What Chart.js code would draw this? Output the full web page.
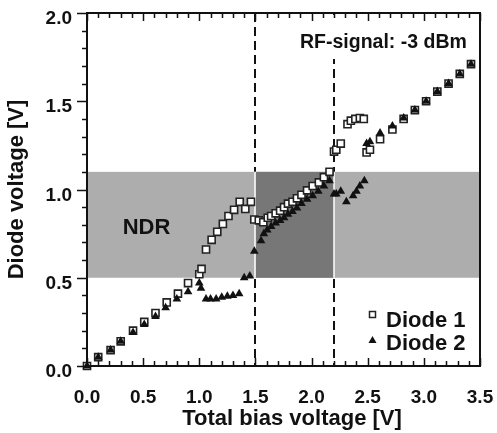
<!DOCTYPE html>
<html>
<head>
<meta charset="utf-8">
<script src="https://cdn.jsdelivr.net/npm/chart.js@4/dist/chart.umd.min.js"></script>
<style>
  html, body { margin: 0; padding: 0; background: #fff; }
  #wrap { width: 497px; height: 433px; }
</style>
</head>
<body>
<div id="wrap"><canvas id="chart" width="497" height="433"></canvas></div>
<script>
// values
var diode1X = [0, 0.10, 0.21, 0.30, 0.41, 0.51, 0.61, 0.71, 0.81, 0.90, 1.00, 1.02, 1.06, 1.11, 1.16, 1.21, 1.26, 1.31, 1.36, 1.41, 1.46,
  1.49, 1.53, 1.57, 1.61, 1.64, 1.68, 1.72, 1.755, 1.79, 1.83, 1.87, 1.91, 1.96, 2.01, 2.065, 2.11, 2.16,
  2.20, 2.22, 2.26, 2.32, 2.35, 2.39, 2.43, 2.465, 2.49, 2.52, 2.61, 2.72, 2.82, 2.92, 3.02, 3.12, 3.22, 3.32, 3.42];
var diode1Y = [0, 0.05, 0.09, 0.14, 0.20, 0.25, 0.30, 0.36, 0.41, 0.47, 0.52, 0.55, 0.66, 0.715, 0.76, 0.805, 0.85, 0.885, 0.93, 0.89, 0.93,
  0.83, 0.825, 0.815, 0.84, 0.85, 0.865, 0.88, 0.90, 0.92, 0.93, 0.95, 0.97, 0.995, 1.02, 1.04, 1.07, 1.10,
  1.215, 1.225, 1.26, 1.37, 1.39, 1.40, 1.405, 1.40, 1.21, 1.225, 1.285, 1.34, 1.40, 1.45, 1.50, 1.555, 1.60, 1.655, 1.71];

var diode2X = [0, 0.10, 0.21, 0.30, 0.41, 0.51, 0.61, 0.70, 0.80, 0.90, 1.00, 1.015, 1.06, 1.10, 1.15, 1.20, 1.25, 1.30, 1.355, 1.40, 1.45,
  1.49, 1.55, 1.575, 1.605, 1.64, 1.68, 1.72, 1.755, 1.79, 1.83, 1.87, 1.91, 1.96, 2.01, 2.06, 2.11, 2.16,
  2.20, 2.22, 2.26, 2.31, 2.37, 2.40, 2.43, 2.47, 2.49, 2.52, 2.61, 2.72, 2.82, 2.92, 3.02, 3.12, 3.22, 3.32, 3.42];
var diode2Y = [0, 0.05, 0.09, 0.14, 0.19, 0.235, 0.28, 0.33, 0.38, 0.42, 0.47, 0.44, 0.38, 0.38, 0.38, 0.39, 0.395, 0.40, 0.41, 0.50, 0.51,
  0.65, 0.71, 0.75, 0.77, 0.79, 0.81, 0.825, 0.84, 0.86, 0.875, 0.895, 0.92, 0.945, 0.965, 0.99, 1.02, 1.05,
  0.975, 0.975, 0.99, 0.93, 0.965, 0.99, 1.02, 1.05, 1.26, 1.27, 1.32, 1.36, 1.405, 1.45, 1.50, 1.555, 1.60, 1.655, 1.71];

var xTicks = [0, 0.5, 1.0, 1.5, 2.0, 2.5, 3.0, 3.5];
var yTicks = [0, 0.5, 1.0, 1.5, 2.0];

var ndrBand = [0.5, 1.1];     // voltage range of the shaded band
var dashedAt = [1.5, 2.2];    // dashed vertical markers

function pairs(xs, ys) {
  var out = [];
  for (var i = 0; i < xs.length; i++) out.push({x: xs[i], y: ys[i]});
  return out;
}

var FONT = "'Liberation Sans', Arial, Helvetica, sans-serif";

var decorPlugin = {
  id: 'decor',
  beforeDatasetsDraw: function(chart) {
    var ctx = chart.ctx;
    var xs = chart.scales.x, ys = chart.scales.y;
    var a = chart.chartArea;
    ctx.save();
    // dashed markers
    ctx.strokeStyle = '#111';
    ctx.lineWidth = 2;
    ctx.setLineDash([9, 5]);
    dashedAt.forEach(function(v) {
      var px = Math.round(xs.getPixelForValue(v));
      ctx.beginPath();
      ctx.moveTo(px, a.top);
      ctx.lineTo(px, a.bottom);
      ctx.stroke();
    });
    ctx.setLineDash([]);
    // shaded NDR band
    var yt = ys.getPixelForValue(ndrBand[1]), yb = ys.getPixelForValue(ndrBand[0]);
    ctx.fillStyle = '#adadad';
    ctx.fillRect(a.left, yt, a.right - a.left, yb - yt);
    var x1 = xs.getPixelForValue(dashedAt[0]), x2 = xs.getPixelForValue(dashedAt[1]);
    ctx.fillStyle = '#777';
    ctx.fillRect(x1, yt, x2 - x1, yb - yt);
    ctx.strokeStyle = '#fff';
    ctx.lineWidth = 1.5;
    [x1, x2].forEach(function(px) {
      ctx.beginPath();
      ctx.moveTo(Math.round(px), yt);
      ctx.lineTo(Math.round(px), yb);
      ctx.stroke();
    });
    ctx.fillStyle = '#111';
    ctx.font = 'bold 22px ' + FONT;
    ctx.textAlign = 'center';
    ctx.textBaseline = 'middle';
    ctx.fillText('NDR', xs.getPixelForValue(0.53), ys.getPixelForValue(0.78));
    // white box behind the RF note
    ctx.fillStyle = '#fff';
    ctx.fillRect(296, a.top + 2, a.right - 298, 44);
    ctx.restore();
  },
  afterDraw: function(chart) {
    var ctx = chart.ctx;
    var xs = chart.scales.x, ys = chart.scales.y;
    var a = chart.chartArea;
    ctx.save();
    // frame
    ctx.strokeStyle = '#111';
    ctx.lineWidth = 2;
    ctx.strokeRect(a.left, a.top, a.right - a.left, a.bottom - a.top);
    // ticks
    ctx.lineWidth = 1.5;
    for (var i = 0; i <= 35; i++) {
      var v = i / 10;
      var px = Math.round(xs.getPixelForValue(v)) + 0.5;
      var major = i % 5 === 0;
      var len = major ? 8 : 5;
      ctx.beginPath();
      ctx.moveTo(px, a.bottom);
      ctx.lineTo(px, a.bottom - len);
      ctx.moveTo(px, a.top);
      ctx.lineTo(px, a.top + len);
      ctx.stroke();
    }
    for (var j = 0; j <= 20; j++) {
      var w = j / 10;
      var py = Math.round(ys.getPixelForValue(w)) + 0.5;
      var lenY = j % 5 === 0 ? 10 : 5;
      ctx.beginPath();
      ctx.moveTo(a.left, py);
      ctx.lineTo(a.left - lenY, py);
      ctx.stroke();
    }
    // x axis title, sits a little right of centre in the original
    ctx.fillStyle = '#111';
    ctx.font = 'bold 22px ' + FONT;
    ctx.textAlign = 'center';
    ctx.textBaseline = 'middle';
    ctx.fillText('Total bias voltage [V]', 292, 419);

    // annotation + legend
    ctx.font = 'bold 19.5px ' + FONT;
    ctx.textAlign = 'left';
    ctx.fillText('RF-signal: -3 dBm', 300, 43);

    ctx.font = 'bold 22px ' + FONT;
    ctx.fillText('Diode 1', 386, 321);
    ctx.fillText('Diode 2', 386, 344);
    ctx.lineWidth = 1.5;
    ctx.strokeStyle = '#222';
    ctx.fillStyle = '#fff';
    ctx.fillRect(369.5, 311.5, 6, 6);
    ctx.strokeRect(369.5, 311.5, 6, 6);
    ctx.fillStyle = '#111';
    ctx.beginPath();
    ctx.moveTo(372.5, 336);
    ctx.lineTo(376.5, 343);
    ctx.lineTo(368.5, 343);
    ctx.closePath();
    ctx.fill();
    ctx.restore();
  }
};

var ctx = document.getElementById('chart').getContext('2d');
var chart = new Chart(ctx, {
  type: 'scatter',
  data: {
    datasets: [
      {
        label: 'Diode 1',
        data: pairs(diode1X, diode1Y),
        pointStyle: 'rect',
        pointRadius: 5,
        pointBorderWidth: 1.6,
        pointBackgroundColor: '#fff',
        pointBorderColor: '#222',
        order: 1,
        clip: false
      },
      {
        label: 'Diode 2',
        data: pairs(diode2X, diode2Y),
        pointStyle: 'triangle',
        pointRadius: 5,
        pointBorderWidth: 0,
        pointBackgroundColor: '#111',
        pointBorderColor: '#111',
        order: 0,
        clip: false
      }
    ]
  },
  options: {
    responsive: false,
    animation: false,
    layout: { padding: { top: 13, right: 17, left: 0, bottom: 0 } },
    plugins: {
      legend: { display: false },
      tooltip: { enabled: false }
    },
    scales: {
      x: {
        type: 'linear',
        min: 0,
        max: 3.5,
        afterFit: function(s) { s.height = 67; s.paddingLeft = 0; s.paddingRight = 0; },
        afterBuildTicks: function(s) { s.ticks = xTicks.map(function(v) { return {value: v}; }); },
        grid: { display: false, drawTicks: false },
        border: { display: false },
        ticks: {
          padding: 20,
          color: '#111',
          font: { family: FONT, size: 19, weight: 'bold' },
          callback: function(v) { return Number(v).toFixed(1); }
        }
      },
      y: {
        type: 'linear',
        min: 0,
        max: 2,
        afterFit: function(s) { s.width = 87; s.paddingTop = 0; s.paddingBottom = 0; },
        afterBuildTicks: function(s) { s.ticks = yTicks.map(function(v) { return {value: v}; }); },
        grid: { display: false, drawTicks: false },
        border: { display: false },
        ticks: {
          padding: 15,
          labelOffset: 6,
          color: '#111',
          font: { family: FONT, size: 19, weight: 'bold' },
          callback: function(v) { return Number(v).toFixed(1); }
        },
        title: {
          display: true,
          text: 'Diode voltage [V]',
          color: '#111',
          padding: { top: 4, bottom: 0 },
          font: { family: FONT, size: 22, weight: 'bold' }
        }
      }
    }
  },
  plugins: [decorPlugin]
});
</script>
</body>
</html>
